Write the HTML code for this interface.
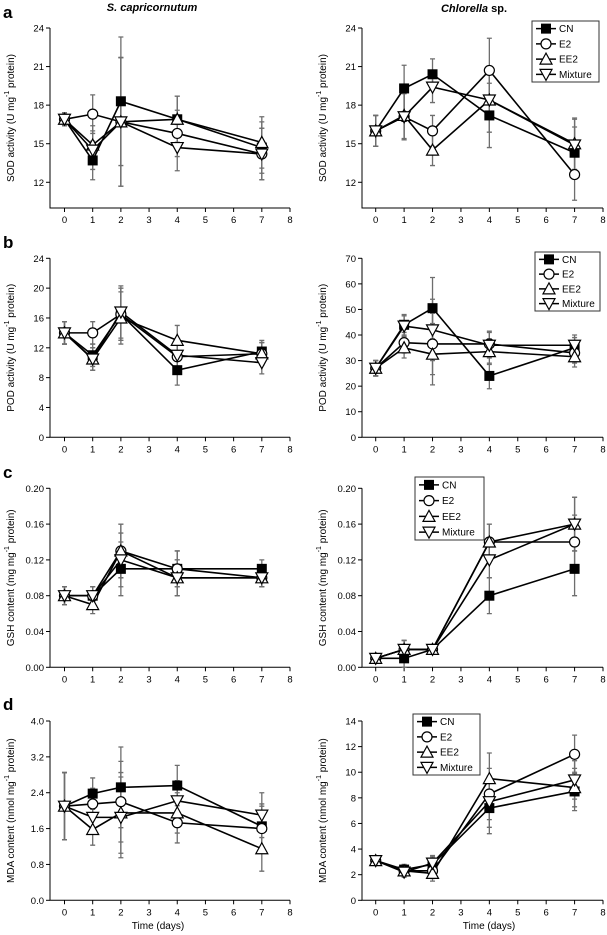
<!DOCTYPE html>
<html><head><meta charset="utf-8"><style>
body{margin:0;background:#fff}
svg{display:block;font-family:"Liberation Sans",sans-serif}
</style></head><body>
<svg id="fig" width="607" height="935" viewBox="0 0 607 935">
<text x="152" y="11" text-anchor="middle" font-size="11" font-weight="bold" font-style="italic">S. capricornutum</text>
<text x="474" y="12" text-anchor="middle" font-size="11" font-weight="bold"><tspan font-style="italic">Chlorella</tspan> sp.</text>
<text x="3" y="18" font-size="17" font-weight="bold">a</text>
<text x="3" y="248" font-size="17" font-weight="bold">b</text>
<text x="3" y="478" font-size="17" font-weight="bold">c</text>
<text x="3" y="710" font-size="17" font-weight="bold">d</text>
<text x="158" y="929" text-anchor="middle" font-size="10">Time (days)</text>
<text x="489" y="929" text-anchor="middle" font-size="10">Time (days)</text>
</svg>
<script>
const days = [0,1,2,4,7];
const seriesNames = ["CN","E2","EE2","Mixture"];
// Panel a
const aL_CN=[16.9,13.7,18.3,16.9,14.7], aL_E2=[16.9,17.3,16.7,15.8,14.2], aL_EE2=[16.9,14.9,16.7,16.9,15.1], aL_MX=[16.9,14.5,16.7,14.7,14.2];
const aL_err=[0.5,1.5,5,1.8,2];
const aR_CN=[16,19.3,20.4,17.2,14.3], aR_E2=[16,17.1,16,20.7,12.6], aR_EE2=[16,17.2,14.5,18.4,15], aR_MX=[16,17.1,19.4,18.4,14.9];
const aR_err=[1.2,1.8,1.2,2.5,2];
// Panel b
const bL_CN=[14,11,16.5,9,11.5], bL_E2=[14,14,16.5,10.8,11.2], bL_EE2=[14,10.5,16,13,11.2], bL_MX=[14,10.5,16.8,11,10];
const bL_err=[1.5,1.5,3.5,2,1.5];
const bR_CN=[27,44,50.5,24,35], bR_E2=[27,37,36.5,36.5,33], bR_EE2=[27,35,32.5,33.5,31.5], bR_MX=[27,43.5,42,36,36];
const bR_err=[3,4,12,5,4];
// Panel c
const cL_CN=[0.08,0.08,0.11,0.11,0.11], cL_E2=[0.08,0.08,0.13,0.11,0.10], cL_EE2=[0.08,0.07,0.13,0.10,0.10], cL_MX=[0.08,0.08,0.12,0.10,0.10];
const cL_err=[0.01,0.01,0.03,0.02,0.01];
const cR_CN=[0.01,0.01,0.02,0.08,0.11], cR_E2=[0.01,0.02,0.02,0.14,0.14], cR_EE2=[0.01,0.02,0.02,0.14,0.16], cR_MX=[0.01,0.02,0.02,0.12,0.16];
const cR_err=[0.003,0.01,0.003,0.02,0.03];
// Panel d
const dL_CN=[2.1,2.38,2.52,2.56,1.65], dL_E2=[2.1,2.15,2.2,1.73,1.6], dL_EE2=[2.1,1.58,1.95,1.95,1.15], dL_MX=[2.1,1.85,1.85,2.22,1.9];
const dL_err=[0.75,0.35,0.9,0.45,0.5];
const dR_CN=[3.1,2.4,2.8,7.2,8.5], dR_E2=[3.1,2.3,2.3,8.3,11.4], dR_EE2=[3.1,2.3,2.1,9.5,8.8], dR_MX=[3.1,2.2,2.9,7.7,9.4];
const dR_err=[0.3,0.4,0.6,2,1.5];
// Ticks
const ticksA=[12,15,18,21,24], ticksB_L=[0,4,8,12,16,20,24], ticksB_R=[0,10,20,30,40,50,60,70];
const ticksC=[0,0.04,0.08,0.12,0.16,0.20], ticksD_L=[0,0.8,1.6,2.4,3.2,4.0], ticksD_R=[0,2,4,6,8,10,12,14];
const xTicks=[0,1,2,3,4,5,6,7,8];

const NS="http://www.w3.org/2000/svg", svg=document.getElementById('fig');
function mk(tag,at,parent){const e=document.createElementNS(NS,tag);for(const k in at)e.setAttribute(k,at[k]);(parent||svg).appendChild(e);return e;}
function marker(g,type,cx,cy){
  let e;const r=5;
  if(type===0){e=mk('rect',{x:cx-r,y:cy-r,width:2*r,height:2*r,fill:'#000'},g);}
  else if(type===1){e=mk('circle',{cx:cx,cy:cy,r:r,fill:'#fff',stroke:'#000','stroke-width':1.2},g);}
  else if(type===2){e=mk('polygon',{points:`${cx},${cy-6} ${cx-6},${cy+5} ${cx+6},${cy+5}`,fill:'#fff',stroke:'#000','stroke-width':1.2},g);}
  else {e=mk('polygon',{points:`${cx},${cy+6} ${cx-6},${cy-5} ${cx+6},${cy-5}`,fill:'#fff',stroke:'#000','stroke-width':1.2},g);}
  return e;
}
function panel(o){
  const g=mk('g',{});
  
  
  const X=v=>o.x0+(v/8)*(o.x8-o.x0);
  const Y=v=>o.yb-(v-o.ymin)/(o.ymax-o.ymin)*(o.yb-o.yt);
  const ax=mk('path',{d:`M${o.ax},${o.yt} V${o.yb} H${o.x8}`,fill:'none',stroke:'#000','stroke-width':1},g);
  
  
  o.ticks.forEach(t=>{
    mk('line',{x1:o.ax-4,x2:o.ax,y1:Y(t),y2:Y(t),stroke:'#000'},g);
    const tx=mk('text',{x:o.ax-6,y:Y(t)+3.5,'text-anchor':'end','font-size':9.5},g);
    tx.textContent=o.fmt?t.toFixed(o.fmt):t;
    
    
  });
  xTicks.forEach(t=>{
    mk('line',{x1:X(t),x2:X(t),y1:o.yb,y2:o.yb+4,stroke:'#000'},g);
    const tx=mk('text',{x:X(t),y:o.yb+15,'text-anchor':'middle','font-size':9.5},g);
    tx.textContent=t;
    
    
  });
  const cy=(o.yt+o.yb)/2, lx=o.ax-36;
  const yl=mk('text',{x:lx,y:cy,'text-anchor':'middle','font-size':10,transform:`rotate(-90 ${lx} ${cy})`},g);
  yl.innerHTML=o.label+' (<tspan>'+o.unit+' mg</tspan><tspan dy="-5" font-size="7">-1</tspan><tspan dy="5"> protein)</tspan>';
  
  
  // error bars
  o.series.forEach(s=>{
    s.forEach((v,i)=>{
      const x=X(days[i]),e=o.err[i];
      const eb=mk('path',{d:`M${x},${Y(v-e)} V${Y(v+e)} M${x-2.5},${Y(v-e)} h5 M${x-2.5},${Y(v+e)} h5`,stroke:'#6e6e6e','stroke-width':1.3,fill:'none'},g);
      
      
    });
  });
  o.series.forEach((s,k)=>{
    const ln=mk('polyline',{points:s.map((v,i)=>X(days[i])+','+Y(v)).join(' '),fill:'none',stroke:'#000','stroke-width':1.6},g);
    
    
  });
  o.series.forEach((s,k)=>{
    s.forEach((v,i)=>{
      const m=marker(g,k,X(days[i]),Y(v));
      
      
    });
  });
  if(o.leg){
    const [lx0,ly0,lx1,ly1]=o.leg;
    const lg=mk('g',{},g);
    
    
    mk('rect',{x:lx0,y:ly0,width:lx1-lx0,height:ly1-ly0,fill:'#fff',stroke:'#333','stroke-width':1},lg);
    const step=(ly1-ly0)/4;
    seriesNames.forEach((n,k)=>{
      const yy=ly0+step*(k+0.5);
      const en=mk('g',{},lg);
      
      
      mk('line',{x1:lx0+4,x2:lx0+24,y1:yy,y2:yy,stroke:'#000','stroke-width':1.6},en);
      marker(en,k,lx0+14,yy);
      const t=mk('text',{x:lx0+27,y:yy+3.5,'font-size':10},en);
      t.textContent=n;
    });
  }
}
const L={ax:50,x0:64.5,x8:290}, R={ax:362,x0:375.7,x8:603};
panel({...L,name:'panel-a-left',yt:28,yb:208,ymin:10,ymax:24,ticks:ticksA,label:'SOD activity',unit:'U',series:[aL_CN,aL_E2,aL_EE2,aL_MX],err:aL_err});
panel({...R,name:'panel-a-right',yt:28,yb:208,ymin:10,ymax:24,ticks:ticksA,label:'SOD activity',unit:'U',series:[aR_CN,aR_E2,aR_EE2,aR_MX],err:aR_err,leg:[532,21,599,82]});
panel({...L,name:'panel-b-left',yt:258.3,yb:437.3,ymin:0,ymax:24,ticks:ticksB_L,label:'POD activity',unit:'U',series:[bL_CN,bL_E2,bL_EE2,bL_MX],err:bL_err});
panel({...R,name:'panel-b-right',yt:258.3,yb:437.3,ymin:0,ymax:70,ticks:ticksB_R,label:'POD activity',unit:'U',series:[bR_CN,bR_E2,bR_EE2,bR_MX],err:bR_err,leg:[535,252,600,311]});
panel({...L,name:'panel-c-left',yt:488.3,yb:667.3,ymin:0,ymax:0.2,ticks:ticksC,fmt:2,label:'GSH content',unit:'mg',series:[cL_CN,cL_E2,cL_EE2,cL_MX],err:cL_err});
panel({...R,name:'panel-c-right',yt:488.3,yb:667.3,ymin:0,ymax:0.2,ticks:ticksC,fmt:2,label:'GSH content',unit:'mg',series:[cR_CN,cR_E2,cR_EE2,cR_MX],err:cR_err,leg:[415,477,484,540]});
panel({...L,name:'panel-d-left',yt:721,yb:900.3,ymin:0,ymax:4,ticks:ticksD_L,fmt:1,label:'MDA content',unit:'nmol',series:[dL_CN,dL_E2,dL_EE2,dL_MX],err:dL_err});
panel({...R,name:'panel-d-right',yt:721,yb:900.3,ymin:0,ymax:14,ticks:ticksD_R,label:'MDA content',unit:'nmol',series:[dR_CN,dR_E2,dR_EE2,dR_MX],err:dR_err,leg:[413,714,480,775]});
</script>
</body></html>
